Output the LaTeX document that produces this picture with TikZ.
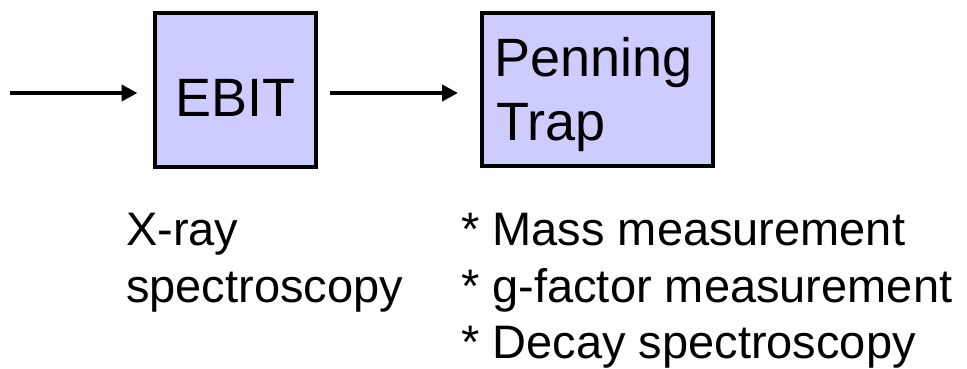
\documentclass[tikz,border=0pt]{standalone}
\usepackage{fontspec}
\setmainfont{Liberation Sans}
\usetikzlibrary{arrows.meta}

\definecolor{boxfill}{HTML}{CCCCFF}

\tikzset{
  stagebox/.style={draw=black, line width=4pt, fill=boxfill, inner sep=0pt},
  boxtext/.style={font=\fontsize{54}{63}\selectfont, inner sep=0pt, anchor=base west},
  notetext/.style={font=\fontsize{47}{56}\selectfont, inner sep=0pt, anchor=base west},
  flow/.style={line width=4.5pt, -{Triangle[length=16pt, width=16pt]}}
}

\begin{document}
\begin{tikzpicture}[x=1pt, y=-1pt]
  \useasboundingbox (0,0) rectangle (967,369);

  % the two stages
  \node[stagebox, minimum width=161pt, minimum height=154pt] (ebit) at (235,90) {};
  \node[stagebox, minimum width=231pt, minimum height=153pt] (pen) at (597.5,89.5) {};

  \node[boxtext, anchor=base] (ebitlbl) at (235.5,116) {EBIT};
  \node[boxtext] (penlbl1) at (494,77) {Penning};
  \node[boxtext] (penlbl2) at (496,140) {Trap};

  % beam line
  \coordinate (in) at (10,93);
  \coordinate (mid) at (330,93);
  \draw[flow, shorten >=15pt] (in) -- (in -| ebit.west);
  \draw[flow, shorten >=22pt] (mid) -- (mid -| pen.west);

  % measurements done at each stage
  \node[notetext] (xr1) at (126,245) {X-ray};
  \node[notetext] (xr2) at (126,302) {spectroscopy};

  \node[notetext] (m1) at (461,245) {* Mass measurement};
  \node[notetext] (m2) at (461,302) {* g-factor measurement};
  \node[notetext] (m3) at (461,358) {* Decay spectroscopy};
\end{tikzpicture}
\end{document}
